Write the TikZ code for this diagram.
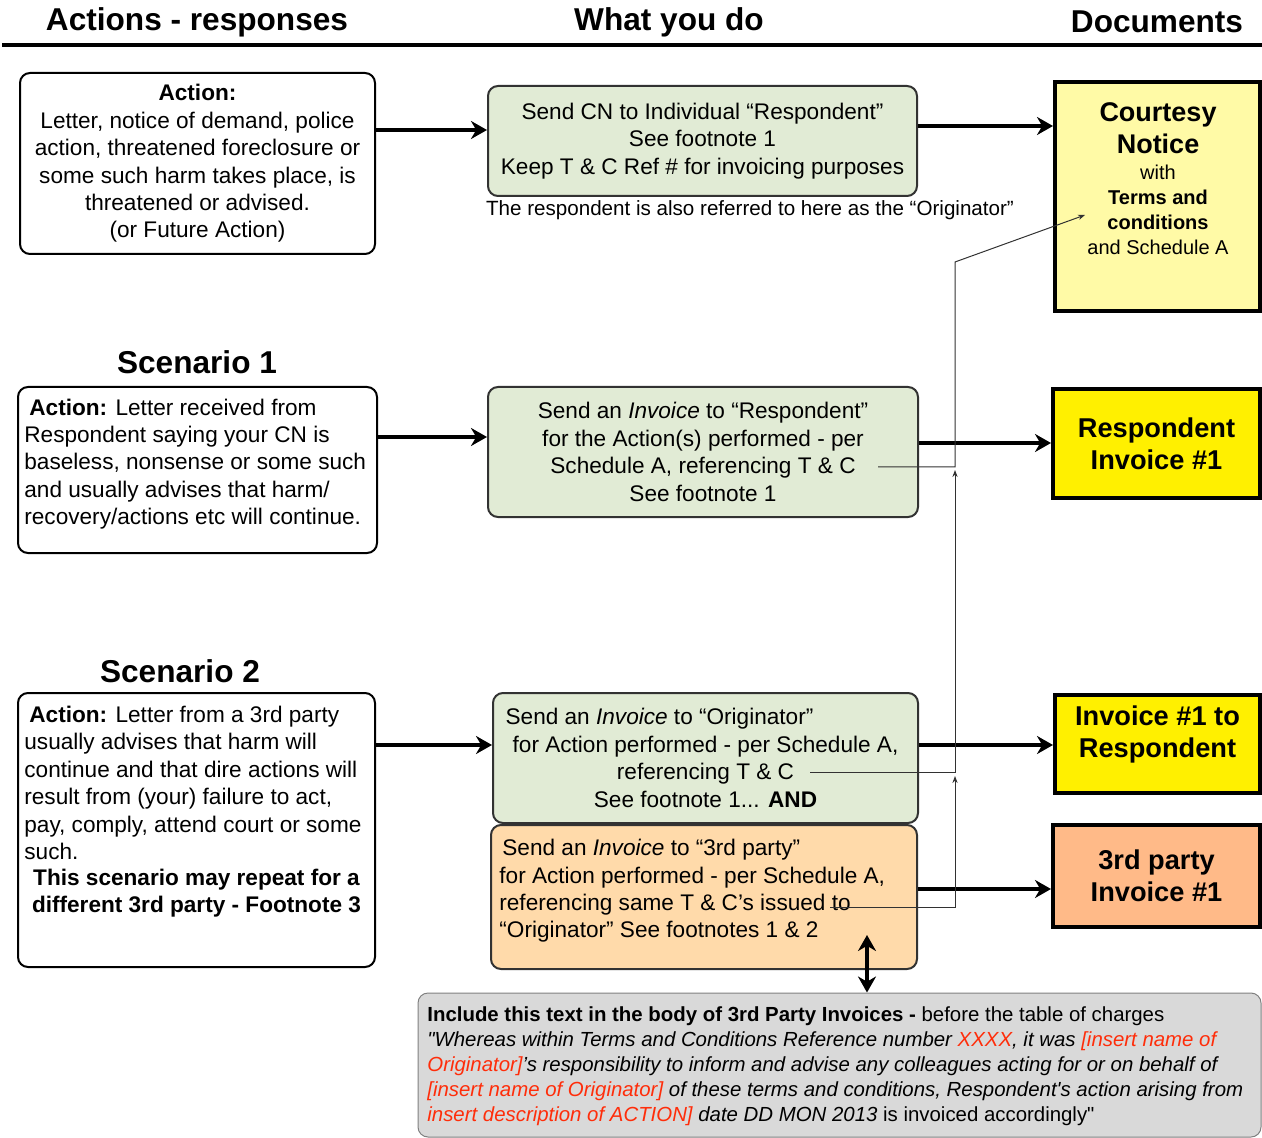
\documentclass[tikz,border=0pt]{standalone}
\usepackage{fontspec}
\setmainfont{Liberation Sans}
\newfontfamily\plainsans{Liberation Sans}
\usepackage{tikz}
\usetikzlibrary{arrows.meta}
\definecolor{todogreen}{RGB}{225,235,213}
\definecolor{todoedge}{RGB}{50,50,50}
\definecolor{todopeach}{RGB}{255,218,170}
\definecolor{cnyellow}{RGB}{255,250,166}
\definecolor{invyellow}{RGB}{255,240,0}
\definecolor{invsalmon}{RGB}{255,186,136}
\definecolor{notegray}{RGB}{217,217,217}
\definecolor{fillin}{RGB}{255,45,10}
\tikzset{
  >={Stealth[length=8pt,width=9pt]},
  body/.style={font=\fontsize{11.3}{13.7}\selectfont},
  act/.style={draw,rounded corners=5pt,line width=1pt,fill=white,inner sep=0pt,body,align=center},
  todo/.style={draw=todoedge,rounded corners=5pt,line width=1pt,fill=todogreen,inner sep=0pt,body,align=center},
  doc/.style={draw,line width=2pt,inner sep=0pt,align=center,font=\fontsize{13.6}{16}\selectfont\bfseries},
  txt/.style={inner sep=0pt,body,align=left},
  hd/.style={inner sep=0pt,font=\fontsize{15.8}{19}\selectfont\bfseries},
  fat/.style={->,line width=2pt},
  lnk/.style={->,draw=todoedge,line width=0.5pt,>={Stealth[length=3.5pt,width=2.6pt]}},
}
\begin{document}
\begin{tikzpicture}[x=0.5pt,y=-0.5pt]
\useasboundingbox (0,0) rectangle (1262,1138);
% column heads
\node[hd] (h1) at (197,22) {Actions - responses};
\node[hd] (h2) at (669,22) {What you do};
\node[hd] (h3) at (1157,22) {Documents};
\draw[line width=2pt] (2,45) -- (1262,45);
% first action
\node[act,minimum width=177.5pt,minimum height=90.5pt] (a0) at (197.5,163.5)
  {\textbf{Action:}\\Letter, notice of demand, police\\action, threatened foreclosure or\\some such harm takes place, is\\threatened or advised.\\(or Future Action)};
\node[todo,minimum width=214.5pt,minimum height=55pt] (g1) at (702.5,141)
  {Send CN to Individual “Respondent”\\See footnote 1\\Keep T \& C Ref \# for invoicing purposes};
\node[inner sep=0pt,font=\fontsize{10.3}{12.5}\selectfont] (cap) at (750,210)
  {The respondent is also referred to here as the “Originator”};
\node[doc,fill=cnyellow,minimum width=102.5pt,minimum height=114.5pt] (cn) at (1157.5,196.5) {};
\node[doc,inner sep=0pt,draw=none,font=\fontsize{13.5}{16}\selectfont\bfseries] (cnt1) at (1158,128) {Courtesy\\Notice};
\node[inner sep=0pt,align=center,font=\fontsize{10}{12.5}\selectfont] (cnt2) at (1158,210)
  {with\\\textbf{Terms and}\\\textbf{conditions}\\and Schedule A};
% scenario 1
\node[hd] (sc1) at (197,362) {Scenario 1};
\node[act,minimum width=179.5pt,minimum height=83pt] (s1) at (197.5,470) {};
\node[txt,anchor=west] (s1t) at (24,464)
  {\hspace*{2.5pt}\textbf{Action:} Letter received from\\Respondent saying your CN is\\baseless, nonsense or some such\\and usually advises that harm/\\recovery/actions etc will continue.};
\node[todo,minimum width=215pt,minimum height=65pt] (g2) at (703,452)
  {Send an \textit{Invoice} to “Respondent”\\for the Action(s) performed - per\\Schedule A, referencing T \& C\\See footnote 1};
\node[doc,fill=invyellow,minimum width=103.5pt,minimum height=54.5pt] (r1) at (1156.5,443.5) {Respondent\\Invoice \#1};
% scenario 2
\node[hd] (sc2) at (180,671) {Scenario 2};
\node[act,minimum width=178.5pt,minimum height=137pt] (s2) at (196.5,830) {};
\node[txt,anchor=west] (s2t) at (24,783)
  {\hspace*{2.5pt}\textbf{Action:} Letter from a 3rd party\\usually advises that harm will\\continue and that dire actions will\\result from (your) failure to act,\\pay, comply, attend court or some\\such.};
\node[txt,align=center,font=\fontsize{11.3}{13.7}\selectfont\bfseries] (s2b) at (196.5,893)
  {This scenario may repeat for a\\different 3rd party - Footnote 3};
\node[todo,minimum width=212.5pt,minimum height=65pt] (g3) at (705.5,758)
  {Send an \textit{Invoice} to “Originator”\hspace*{46pt}\\for Action performed - per Schedule A,\\referencing T \& C\\See footnote 1... \textbf{AND}};
\node[todo,fill=todopeach,minimum width=213pt,minimum height=72pt] (o1) at (704,897) {};
\node[txt,anchor=west] (o1t) at (499,891)
  {\hspace*{1.5pt}Send an \textit{Invoice} to “3rd party”\\for Action performed - per Schedule A,\\referencing same T \& C’s issued to\\“Originator” See footnotes 1 \& 2};
\node[doc,fill=invyellow,minimum width=102.5pt,minimum height=49pt] (i1) at (1157.5,744) {};
\node[doc,draw=none] (i1t) at (1157.5,734) {Invoice \#1 to\\Respondent};
\node[doc,fill=invsalmon,minimum width=103.5pt,minimum height=51pt] (t1) at (1156.5,876) {3rd party\\Invoice \#1};
% wording for 3rd party invoices
\node[draw=gray,rounded corners=5pt,line width=0.5pt,fill=notegray,minimum width=421.5pt,minimum height=72pt] (nt) at (839.5,1065) {};
\node[txt,anchor=west,font=\plainsans\fontsize{10.2}{12.5}\selectfont] (ntt) at (427,1066)
  {\textbf{Include this text in the body of 3rd Party Invoices -} before the table of charges\\
   \textit{"Whereas within Terms and Conditions Reference number \textcolor{fillin}{XXXX}, it was \textcolor{fillin}{[insert name of}}\\
   \textit{\textcolor{fillin}{Originator]}’s responsibility to inform and advise any colleagues acting for or on behalf of}\\
   \textit{\textcolor{fillin}{[insert name of Originator]} of these terms and conditions, Respondent's action arising from}\\
   \textit{\textcolor{fillin}{insert description of ACTION]} date DD MON 2013} is invoiced accordingly"};
% thick arrows
\draw[fat] (a0.east |- 0,130) -- (g1.west |- 0,130);
\draw[fat] (g1.east |- 0,126) -- (cn.west |- 0,126);
\draw[fat] (s1.east |- 0,437) -- (g2.west |- 0,437);
\draw[fat] (g2.east |- 0,443) -- (r1.west |- 0,443);
\draw[fat] (s2.east |- 0,745) -- (g3.west |- 0,745);
\draw[fat] (g3.east |- 0,745) -- (i1.west |- 0,745);
\draw[fat] (o1.east |- 0,889) -- (t1.west |- 0,889);
\coordinate (dup) at (867,935);
\draw[fat,<->] (dup) -- (nt.north -| dup);
% thin links back to the T & C
\coordinate (k1) at (878,467);
\coordinate (k2) at (810,772);
\coordinate (k3) at (830,907);
\coordinate (cnk) at (1085,215);
\draw[lnk] (k1) -- (955,467) -- (955,262) -- (cnk);
\draw[lnk] (k2) -| (955,470);
\draw[lnk] (k3) -| (955,776);
\end{tikzpicture}
\end{document}
